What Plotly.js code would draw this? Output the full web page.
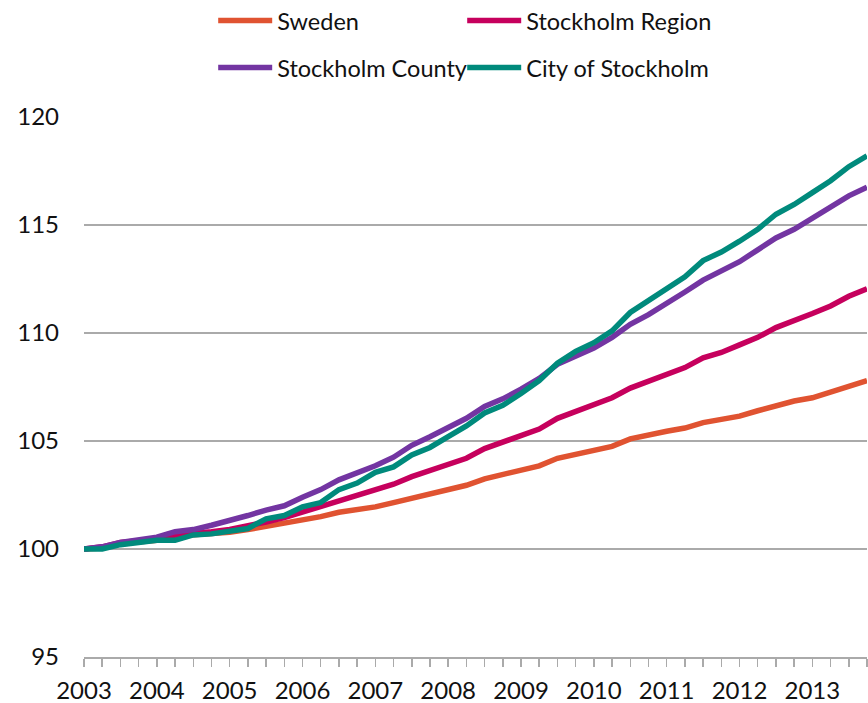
<!DOCTYPE html>
<html>
<head>
<meta charset="utf-8">
<script src="https://cdn.plot.ly/plotly-3.0.1.min.js"></script>
<style>html,body{margin:0;padding:0;background:#fff;}#chart{width:868px;height:703px;}</style>
</head>
<body>
<div id="chart"></div>
<script>
// Quarterly index, 2003 Q1 = 100
var years = ['2003','2004','2005','2006','2007','2008','2009','2010','2011','2012','2013'];
var quarters = [];
for (var i = 0; i < 44; i++) quarters.push(i);

var sweden = [100.0,100.05,100.25,100.3,100.4,100.6,100.65,100.7,100.78,100.9,101.05,101.15,
  101.3,101.5,101.7,101.8,101.95,102.15,102.35,102.55,102.7,102.95,103.25,103.45,
  103.6,103.85,104.2,104.4,104.55,104.75,105.1,105.3,105.45,105.6,105.85,106.0,
  106.15,106.4,106.65,106.85,107.0,107.25,107.55,107.8];
var stockholmRegion = [100.0,100.1,100.3,100.35,100.45,100.65,100.7,100.8,100.9,101.05,101.25,101.45,
  101.7,101.95,102.25,102.45,102.7,103.0,103.35,103.65,103.9,104.2,104.65,104.95,
  105.2,105.55,106.05,106.35,106.65,107.0,107.45,107.75,108.05,108.4,108.85,109.1,
  109.45,109.8,110.25,110.55,110.9,111.25,111.7,112.05];
var stockholmCounty = [100.0,100.1,100.3,100.4,100.55,100.8,100.9,101.1,101.3,101.55,101.8,102.0,
  102.4,102.75,103.2,103.5,103.85,104.25,104.8,105.2,105.6,106.05,106.6,106.95,
  107.4,107.9,108.55,108.95,109.3,109.8,110.4,110.85,111.35,111.9,112.45,112.85,
  113.3,113.85,114.4,114.8,115.3,115.8,116.35,116.75];
var cityOfStockholm = [100.0,100.0,100.2,100.3,100.4,100.4,100.65,100.7,100.8,100.95,101.4,101.55,
  101.95,102.15,102.75,103.05,103.55,103.8,104.35,104.7,105.2,105.7,106.3,106.65,
  107.2,107.8,108.6,109.15,109.55,110.1,110.95,111.5,112.05,112.6,113.35,113.75,
  114.25,114.8,115.5,115.95,116.5,117.05,117.7,118.2];
var yTicks = [95,100,105,110,115,120];

var tickText = quarters.map(function(q){ return (q % 4 === 0) ? years[q/4] : ''; });

var FONT = 'Lato, "Noto Sans", sans-serif';

function tr(name, y, color, legend) {
  return {x: quarters, y: y, name: name, type: 'scatter', mode: 'lines',
          line: {color: color, width: 5.5}, legend: legend};
}

var data = [
  tr('Sweden', sweden, '#E05331', 'legend'),
  tr('Stockholm Region', stockholmRegion, '#C6005D', 'legend'),
  tr('Stockholm County', stockholmCounty, '#7335A2', 'legend2'),
  tr('City of Stockholm', cityOfStockholm, '#008A7C', 'legend2')
];

var legendCommon = {
  orientation: 'h', xanchor: 'left', yanchor: 'top',
  font: {family: FONT, size: 23.5, color: '#111'},
  entrywidth: 180, entrywidthmode: 'pixels', itemwidth: 54,
  bgcolor: 'rgba(0,0,0,0)', tracegroupgap: 0, traceorder: 'normal'
};

var layout = {
  width: 868, height: 703,
  margin: {l: 84, r: 1, t: 117, b: 46, autoexpand: false},
  paper_bgcolor: '#fff', plot_bgcolor: '#fff',
  font: {family: FONT, size: 24, color: '#111'},
  showlegend: true,
  legend: Object.assign({}, legendCommon, {x: 0.165, y: 1.219}),
  legend2: Object.assign({}, legendCommon, {x: 0.165, y: 1.132}),
  xaxis: {
    range: [0, 43], tickmode: 'array', tickvals: quarters, ticktext: tickText,
    showgrid: false, zeroline: false, showline: true, linecolor: '#aaaaaa', linewidth: 2,
    ticks: 'outside', ticklen: 8, tickwidth: 1.5, tickcolor: '#aaaaaa',
    ticklabelstandoff: 3,
    tickfont: {family: FONT, size: 24, color: '#111'}, tickangle: 0
  },
  yaxis: {
    range: [95, 120], tickmode: 'array', tickvals: yTicks,
    showgrid: true, gridcolor: '#aaaaaa', gridwidth: 1.5, zeroline: false, showline: false,
    ticks: '', ticklabelstandoff: 24,
    tickfont: {family: FONT, size: 24, color: '#111'}
  }
};

Plotly.newPlot('chart', data, layout, {displayModeBar: false, staticPlot: true});
</script>
</body>
</html>
